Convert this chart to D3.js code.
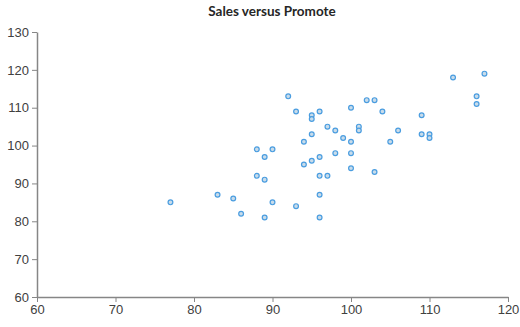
<!DOCTYPE html>
<html>
<head>
<meta charset="utf-8">
<script src="https://d3js.org/d3.v7.min.js"></script>
<style>
  body { margin: 0; background: #fff; }
  svg { display: block; font-family: Lato, "Open Sans", sans-serif; }
  .axis path, .axis line { stroke: #868686; }
  .axis text { fill: #404040; font-size: 13px; }
</style>
</head>
<body>
<svg id="chart" width="520" height="327"></svg>
<script>
// Promote (x) values
const promote = [77, 83, 85, 86, 88, 88, 89, 89, 89, 90,
  90, 92, 93, 93, 94, 94, 95, 95, 95, 95,
  96, 96, 96, 96, 96, 97, 97, 98, 98, 99,
  100, 100, 100, 100, 101, 101, 102, 103, 103, 104,
  105, 106, 109, 109, 110, 110, 113, 116, 116, 117];
// Sales (y) values
const sales = [85, 87, 86, 82, 92, 99, 97, 91, 81, 99,
  85, 113, 109, 84, 101, 95, 108, 107, 103, 96,
  109, 97, 92, 87, 81, 105, 92, 104, 98, 102,
  110, 101, 98, 94, 105, 104, 112, 112, 93, 109,
  101, 104, 108, 103, 103, 102, 118, 113, 111, 119];
const xTicks = [60, 70, 80, 90, 100, 110, 120];
const yTicks = [60, 70, 80, 90, 100, 110, 120, 130];
const title = 'Sales versus Promote';

const svg = d3.select('#chart');
const margin = { left: 37, right: 12, top: 32, bottom: 30 };
const width = 520, height = 327;

const x = d3.scaleLinear().domain([60, 120]).range([margin.left, width - margin.right]);
const y = d3.scaleLinear().domain([60, 130]).range([height - margin.bottom, margin.top]);

svg.append('text')
  .attr('x', 272).attr('y', 16)
  .attr('text-anchor', 'middle')
  .attr('font-size', 13.5).attr('font-weight', 'bold')
  .attr('fill', '#262626')
  .text(title);

svg.append('g').attr('class', 'axis')
  .attr('transform', `translate(0,${y(60)})`)
  .call(d3.axisBottom(x).tickValues(xTicks).tickSize(5).tickPadding(3).tickSizeOuter(0));

svg.append('g').attr('class', 'axis')
  .attr('transform', `translate(${x(60)},0)`)
  .call(d3.axisLeft(y).tickValues(yTicks).tickSize(5).tickPadding(3).tickSizeOuter(0));

svg.selectAll('.axis .domain').attr('stroke-width', 1.5);

svg.append('g')
  .selectAll('circle')
  .data(promote.map((p, i) => [p, sales[i]]))
  .enter()
  .append('circle')
  .attr('cx', d => x(d[0]))
  .attr('cy', d => y(d[1]))
  .attr('r', 2.4)
  .attr('fill', '#c9dcea')
  .attr('stroke', '#4a9de0')
  .attr('stroke-width', 1.2);
</script>
</body>
</html>
